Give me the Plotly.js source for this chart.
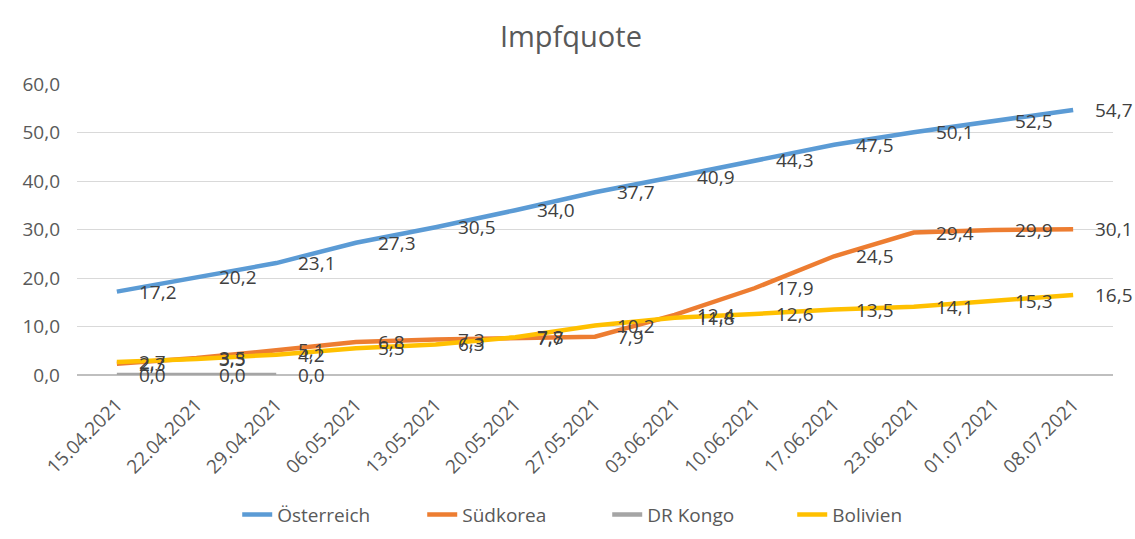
<!DOCTYPE html>
<html>
<head>
<meta charset="utf-8">
<script src="https://cdn.plot.ly/plotly-3.0.1.min.js"></script>
<style>html,body{margin:0;padding:0;background:#fff;}#chart{width:1135px;height:539px;}</style>
</head>
<body>
<div id="chart"></div>
<script>
const categories = ["15.04.2021","22.04.2021","29.04.2021","06.05.2021","13.05.2021","20.05.2021","27.05.2021","03.06.2021","10.06.2021","17.06.2021","23.06.2021","01.07.2021","08.07.2021"];
const oesterreich = [17.2,20.2,23.1,27.3,30.5,34.0,37.7,40.9,44.3,47.5,50.1,52.5,54.7];
const suedkorea = [2.3,3.5,5.1,6.8,7.3,7.7,7.9,12.4,17.9,24.5,29.4,29.9,30.1];
const drkongo = [0.0,0.0,0.0];
const bolivien = [2.7,3.3,4.2,5.5,6.3,7.8,10.2,11.8,12.6,13.5,14.1,15.3,16.5];
const yTicks = [0,10,20,30,40,50,60];

const FONT = "Open Sans, sans-serif";
const fmt = v => v.toFixed(1).replace('.', ',');

const seriesDefs = [
  {name: "Österreich", vals: oesterreich, color: "#5B9BD5"},
  {name: "Südkorea", vals: suedkorea, color: "#ED7D31"},
  {name: "DR Kongo", vals: drkongo, color: "#A5A5A5"},
  {name: "Bolivien", vals: bolivien, color: "#FFC000"}
];

const data = seriesDefs.map(s => ({
  type: "scatter",
  mode: "lines",
  name: s.name,
  x: categories.slice(0, s.vals.length),
  y: s.vals,
  line: {color: s.color, width: 4.5},
  hoverinfo: "skip"
}));

const annotations = [];
seriesDefs.forEach(s => {
  s.vals.forEach((v, i) => {
    annotations.push({
      x: categories[i], y: v, xref: "x", yref: "y",
      text: fmt(v), showarrow: false,
      xanchor: "left", yanchor: "middle",
      xshift: 20, yshift: 0,
      font: {family: FONT, size: 19, color: "#404040"}
    });
  });
});

const layout = {
  width: 1135,
  height: 539,
  margin: {l: 77, r: 22, t: 84, b: 164, autoexpand: false},
  paper_bgcolor: "#ffffff",
  plot_bgcolor: "#ffffff",
  font: {family: FONT, color: "#595959"},
  title: {
    text: "Impfquote",
    font: {family: FONT, size: 29, color: "#595959"},
    x: 0.503, xanchor: "center",
    y: 0.931, yanchor: "middle"
  },
  xaxis: {
    type: "category",
    categoryorder: "array",
    categoryarray: categories,
    range: [-0.5, categories.length - 0.5],
    tickangle: -45,
    tickfont: {family: FONT, size: 19, color: "#595959"},
    ticklabelstandoff: 14,
    showgrid: false,
    showline: false,
    zeroline: false,
    ticks: "",
    fixedrange: true
  },
  yaxis: {
    range: [0, 60.05],
    tickvals: yTicks,
    ticktext: yTicks.map(fmt),
    tickfont: {family: FONT, size: 19, color: "#595959"},
    gridcolor: "#d9d9d9",
    gridwidth: 1,
    zeroline: true,
    zerolinecolor: "#bfbfbf",
    zerolinewidth: 1.5,
    showline: false,
    ticks: "",
    ticklabelstandoff: 16,
    fixedrange: true
  },
  annotations: annotations,
  showlegend: true,
  legend: {
    orientation: "h",
    xref: "container", yref: "container",
    x: 0.535, xanchor: "center",
    y: 0.045, yanchor: "middle",
    font: {family: FONT, size: 19, color: "#595959"},
    entrywidthmode: "pixels",
    entrywidth: 140,
    itemwidth: 30
  }
};

Plotly.newPlot("chart", data, layout, {displayModeBar: false, staticPlot: true});
</script>
</body>
</html>
